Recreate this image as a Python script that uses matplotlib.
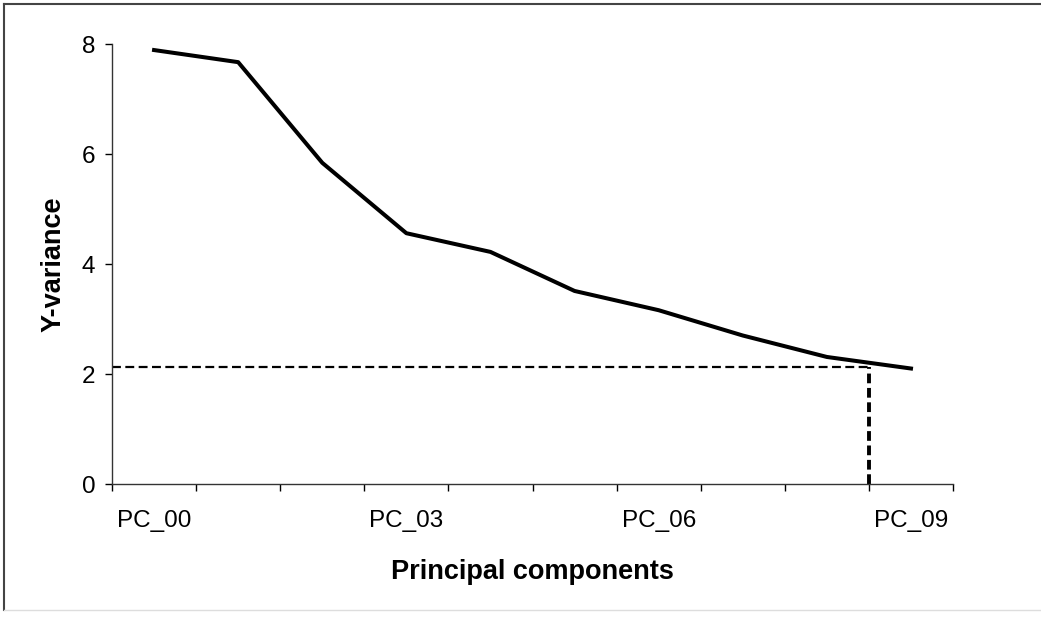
import numpy as np
import matplotlib
matplotlib.use("Agg")
import matplotlib.pyplot as plt
from matplotlib.lines import Line2D

plt.rcParams['font.family'] = ['Liberation Sans', 'DejaVu Sans']

# Y-variance explained per principal component
components = ['PC_00', 'PC_01', 'PC_02', 'PC_03', 'PC_04',
              'PC_05', 'PC_06', 'PC_07', 'PC_08', 'PC_09']
y_variance = [7.89, 7.67, 5.84, 4.56, 4.22, 3.51, 3.16, 2.70, 2.31, 2.10]
shown_labels = ['PC_00', 'PC_03', 'PC_06', 'PC_09']

# cut-off marker
cut_level = 2.12
cut_pos = 8.5

fig = plt.figure(figsize=(10.41, 6.18), dpi=100)
ax = fig.add_axes([0.1076, 0.2168, 0.8079, 0.712])

x = np.arange(len(components))
ax.plot(x, y_variance, color='black', lw=2.9, solid_joinstyle='round')

ax.plot([-0.5, cut_pos], [cut_level, cut_level], color='black', lw=1.6,
         ls=(0, (4, 2)))
ax.plot([cut_pos, cut_pos], [0, cut_level], color='black', lw=2.8,
         ls=(0, (2.5, 1.2)))

ax.set_xlim(-0.5, 9.5)
ax.set_ylim(0, 8)
ax.set_yticks([0, 2, 4, 6, 8])

# category labels sit between the boundary ticks
ax.set_xticks(np.arange(-0.5, 10, 1))
ax.set_xticklabels([])
ax.set_xticks([components.index(c) for c in shown_labels], minor=True)
ax.set_xticklabels(shown_labels, minor=True)
ax.tick_params(axis='x', which='minor', length=0, pad=19, labelsize=17.5)
ax.tick_params(axis='x', which='major', length=5, width=1, direction='out')
ax.tick_params(axis='y', length=5, width=1, direction='out', pad=7,
               labelsize=17.5)

for side in ['top', 'right']:
    ax.spines[side].set_visible(False)
for side in ['left', 'bottom']:
    ax.spines[side].set_linewidth(1)
    ax.spines[side].set_color('#333333')

ax.set_xlabel('Principal components', fontsize=19.5, fontweight='bold',
              labelpad=19)
ax.set_ylabel('Y-variance', fontsize=19.5, fontweight='bold', labelpad=11)

# outer frame
fig.add_artist(Line2D([0.004, 0.004], [0.013, 0.994], color='#444444',
                      lw=1.5, transform=fig.transFigure))
fig.add_artist(Line2D([0.004, 1.0], [0.994, 0.994], color='#444444',
                      lw=1.5, transform=fig.transFigure))
fig.add_artist(Line2D([0.004, 1.0], [0.013, 0.013], color='#dddddd',
                      lw=1.0, transform=fig.transFigure))

fig.savefig('out.png', dpi=100)
